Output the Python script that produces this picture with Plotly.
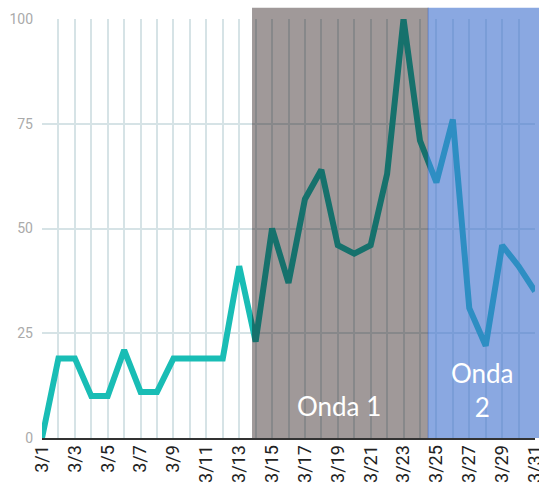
'''courbe mars avec deux vagues'''
import plotly.graph_objects as go

# donnees
days = list(range(1, 32))
values = [0, 19, 19, 10, 10, 21, 11, 11, 19, 19, 19, 19, 41, 23, 50, 37,
          57, 64, 46, 44, 46, 63, 100, 71, 61, 76, 31, 22, 46, 41, 35]
tick_days = list(range(1, 32, 2))
tick_labels = ["3/" + str(d) for d in tick_days]
wave_names = ["Onda 1", "Onda<br>2"]

GRAY = "rgb(18,0,0)"
BLUE = "rgb(60,110,205)"


def main():
    '''main'''
    fig = go.Figure()
    fig.add_trace(go.Scatter(x=days, y=values, mode="lines",
                             line=dict(color="#19bdb5", width=6),
                             hoverinfo="skip"))

    # bandes des vagues (par-dessus la courbe)
    fig.add_shape(type="rect", xref="x", yref="paper", x0=13.78, x1=24.5,
                  y0=0, y1=1.027, fillcolor=GRAY, opacity=0.4,
                  line_width=0, layer="above")
    fig.add_shape(type="rect", xref="x", yref="paper", x0=24.5, x1=31,
                  y0=0, y1=1.027, fillcolor=BLUE, opacity=0.6,
                  line_width=0, layer="above")
    fig.add_shape(type="rect", xref="paper", yref="paper", x0=1, x1=1.02,
                  y0=0, y1=1.027, fillcolor=BLUE, opacity=0.6,
                  line_width=0, layer="above")
    fig.add_shape(type="line", xref="x", yref="paper", x0=24.5, x1=24.5,
                  y0=0, y1=1.027, line=dict(color="rgba(50,90,190,0.5)", width=1),
                  layer="above")

    fig.add_annotation(x=19.1, y=7.6, text=wave_names[0], showarrow=False,
                       font=dict(family="Lato", size=26, color="white"))
    fig.add_annotation(x=27.8, y=11.5, text=wave_names[1], showarrow=False,
                       font=dict(family="Lato", size=26, color="white"))

    fig.update_layout(
        width=539, height=483, showlegend=False,
        margin=dict(l=42, r=4, t=19, b=45),
        plot_bgcolor="white", paper_bgcolor="white",
        font=dict(family="Roboto"),
        xaxis=dict(range=[1, 31], tickvals=tick_days, ticktext=tick_labels,
                   tickangle=-90, showgrid=True, gridcolor="#d6e3e6",
                   gridwidth=1.5, zeroline=False, showline=True,
                   linecolor="#333333", linewidth=2, ticks="",
                   automargin=False, ticklabeloverflow="allow",
                   ticklabelstandoff=-2,
                   tickfont=dict(size=18, color="#222222"),
                   minor=dict(dtick=1, tick0=1, showgrid=True,
                              gridcolor="#d6e3e6", gridwidth=1.5)),
        yaxis=dict(range=[0, 100], tickvals=[0, 25, 50, 75, 100],
                   showgrid=True, gridcolor="#d6e3e6", gridwidth=1.5,
                   zeroline=False, ticks="", ticklen=0, automargin=False,
                   ticklabelstandoff=8,
                   tickfont=dict(size=14, color="#aaaaaa")),
    )
    # pas de marge sur le corps de la page
    fig.write_html("out.html", config={"displayModeBar": False},
                   post_script="document.body.style.margin='0px';")


if __name__ == "__main__":
    main()
